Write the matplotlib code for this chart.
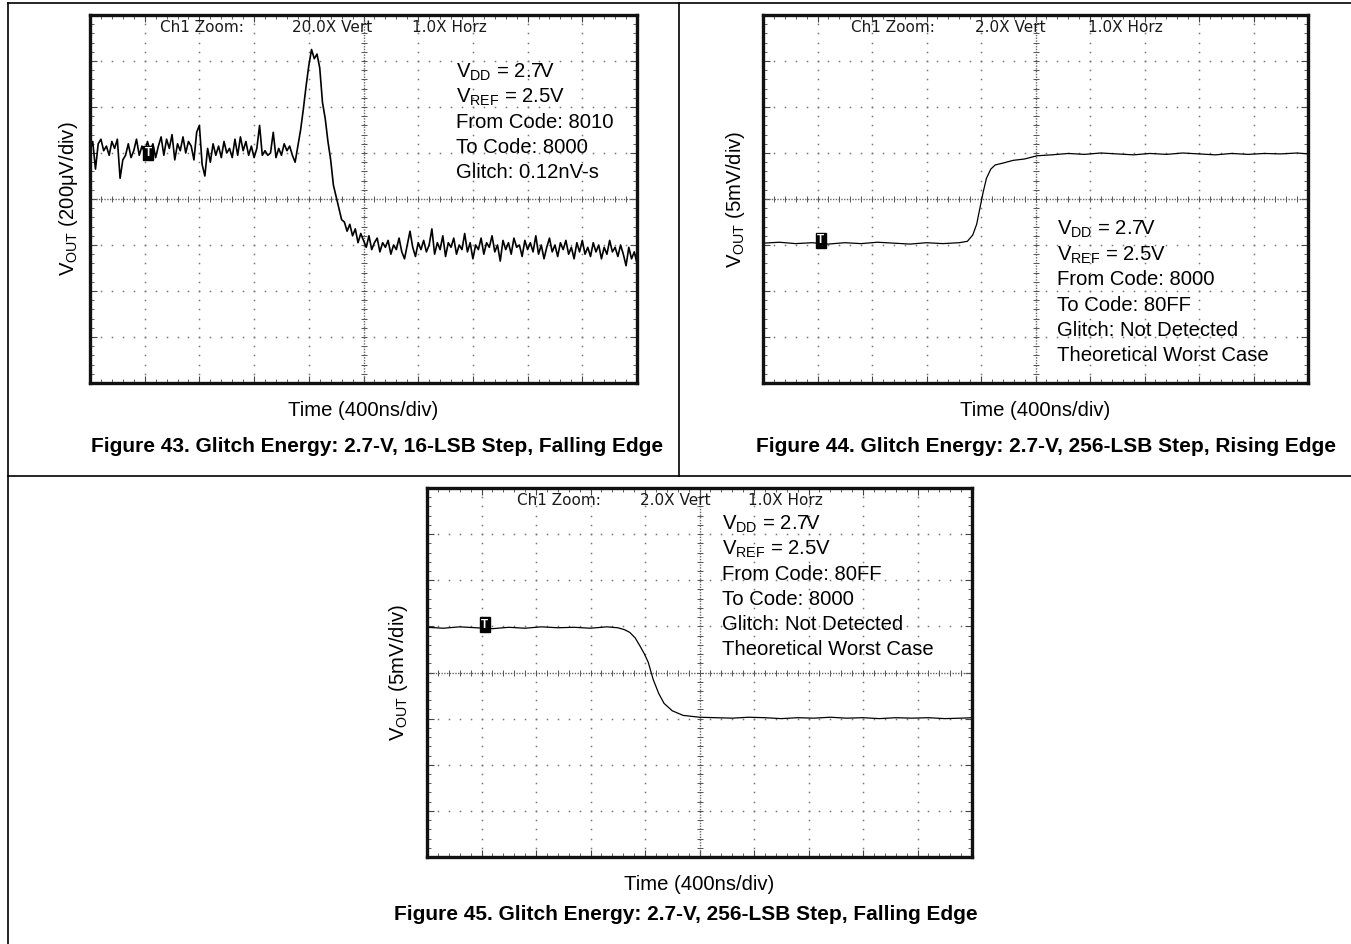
import matplotlib
matplotlib.use('Agg')
import matplotlib.pyplot as plt
import numpy as np
from matplotlib.lines import Line2D

plt.rcParams['font.family'] = ['Liberation Sans', 'DejaVu Sans']
plt.rcParams['mathtext.fontset'] = 'custom'
plt.rcParams['mathtext.rm'] = 'Liberation Sans'
plt.rcParams['mathtext.it'] = 'Liberation Sans:italic'

W, H = 1351, 944

# Figure 43 trace (divisions, sampled every 0.05 div)
fig43_pre = [5.05, 5.25, 4.65, 5.20, 5.30, 5.05, 5.15, 4.95, 5.25, 5.10,
             5.30, 4.45, 4.85, 4.95, 5.20, 4.90, 5.05, 5.30, 4.95, 5.15,
             5.00, 5.25, 5.05, 5.20, 4.90, 5.15, 5.35, 4.95, 5.30, 5.10,
             5.40, 4.85, 5.20, 5.05, 5.35, 5.00, 5.25, 5.15, 4.85, 5.45,
             5.60, 4.75, 4.50, 5.10, 4.80, 5.20, 4.95, 5.15, 4.90, 5.25,
             5.00, 5.10, 4.90, 5.30, 4.95, 5.35, 5.05, 5.25, 4.95, 5.15,
             4.90, 5.10, 5.60, 4.95, 5.05, 4.95, 5.00, 5.45, 4.90, 5.10,
             4.95, 5.20, 5.05, 5.15, 4.95, 4.80, 5.15]
fig43_glitch = [5.50, 5.95, 6.45, 6.90, 7.25, 7.05, 7.15, 6.85, 6.10, 5.75,
                5.25, 4.85, 4.30, 4.05, 3.80, 3.55, 3.50, 3.30, 3.45, 3.20,
                3.35, 3.05, 3.25, 3.10]
fig43_post = [2.95, 3.20, 2.90, 3.05, 3.15, 2.85, 3.05, 2.95, 3.10, 2.80,
              3.00, 2.90, 3.15, 2.85, 2.70, 3.00, 3.30, 2.95, 2.75, 3.05,
              2.90, 3.10, 2.85, 3.00, 3.35, 2.80, 3.05, 2.90, 3.20, 2.75,
              3.05, 2.95, 3.15, 2.80, 3.00, 2.90, 3.25, 2.85, 3.05, 2.70,
              3.00, 2.90, 3.15, 2.80, 3.05, 2.95, 3.20, 2.85, 3.00, 2.65,
              3.10, 2.90, 3.05, 2.80, 3.15, 2.95, 3.00, 2.75, 3.10, 2.90,
              3.05, 2.85, 3.20, 2.80, 3.00, 2.70, 2.95, 3.15, 2.85, 3.00,
              2.75, 3.05, 2.90, 3.10, 2.80, 2.95, 2.70, 3.05, 2.85, 3.10,
              2.80, 2.95, 2.75, 3.05, 2.85, 3.00, 2.70, 2.95, 2.80, 3.10,
              2.85, 2.95, 2.75, 3.00, 2.80, 2.55, 2.95, 2.70, 2.85, 2.60]
fig43_v = fig43_pre + fig43_glitch + fig43_post
fig43_t = np.linspace(0, 10, len(fig43_v))

# Figure 44 trace
fig44_t = [0, 0.3, 0.6, 0.9, 1.2, 1.5, 1.8, 2.1, 2.4, 2.7, 3.0, 3.3, 3.6, 3.75,
           3.85, 3.92, 3.98, 4.04, 4.10, 4.18, 4.26, 4.40, 4.59, 4.80, 5.03,
           5.3, 5.6, 5.9, 6.2, 6.5, 6.8, 7.1, 7.4, 7.7, 8.0, 8.3, 8.6, 8.9,
           9.2, 9.5, 9.8, 10.0]
fig44_v = [3.04, 3.06, 3.03, 3.05, 3.02, 3.05, 3.03, 3.06, 3.04, 3.02, 3.05,
           3.03, 3.05, 3.08, 3.22, 3.45, 3.80, 4.15, 4.45, 4.65, 4.74, 4.78,
           4.84, 4.87, 4.94, 4.96, 4.99, 4.97, 5.00, 4.98, 4.96, 4.99, 4.97,
           5.00, 4.98, 4.96, 4.99, 4.97, 4.99, 4.98, 5.00, 4.98]

# Figure 45 trace
fig45_t = [0, 0.3, 0.6, 0.9, 1.2, 1.5, 1.8, 2.1, 2.4, 2.7, 3.0, 3.3, 3.5,
           3.62, 3.72, 3.82, 3.91, 3.99, 4.06, 4.15, 4.25, 4.35, 4.5, 4.7,
           5.0, 5.3, 5.6, 5.9, 6.2, 6.5, 6.8, 7.1, 7.4, 7.7, 8.0, 8.3, 8.6,
           8.9, 9.2, 9.5, 9.8, 10.0]
fig45_v = [4.98, 4.96, 4.99, 4.97, 4.95, 4.98, 4.96, 4.99, 4.97, 4.98, 4.96,
           4.99, 4.97, 4.93, 4.87, 4.75, 4.57, 4.40, 4.22, 3.85, 3.55, 3.33,
           3.17, 3.07, 3.03, 3.02, 3.01, 3.03, 3.02, 3.00, 3.02, 3.01, 3.03,
           3.01, 3.02, 3.00, 3.02, 3.01, 3.02, 3.00, 3.01, 3.02]

ylabels = ['V$_{\\rm OUT}$ (200\u03bcV/div)', 'V$_{\\rm OUT}$ (5mV/div)',
           'V$_{\\rm OUT}$ (5mV/div)']
zoom_vert = ['20.0X Vert', '2.0X Vert', '2.0X Vert']
notes = [
    ['V$_{\\rm DD}$ = 2.7V', 'V$_{\\rm REF}$ = 2.5V', 'From Code: 8010',
     'To Code: 8000', 'Glitch: 0.12nV-s'],
    ['V$_{\\rm DD}$ = 2.7V', 'V$_{\\rm REF}$ = 2.5V', 'From Code: 8000',
     'To Code: 80FF', 'Glitch: Not Detected', 'Theoretical Worst Case'],
    ['V$_{\\rm DD}$ = 2.7V', 'V$_{\\rm REF}$ = 2.5V', 'From Code: 80FF',
     'To Code: 8000', 'Glitch: Not Detected', 'Theoretical Worst Case'],
]
captions = ['Figure 43. Glitch Energy: 2.7-V, 16-LSB Step, Falling Edge',
            'Figure 44. Glitch Energy: 2.7-V, 256-LSB Step, Rising Edge',
            'Figure 45. Glitch Energy: 2.7-V, 256-LSB Step, Falling Edge']


def px(x, y):
    return x / W, 1 - y / H


def graticule(ax):
    ax.set_xlim(0, 10)
    ax.set_ylim(0, 8)
    ax.set_xticks(range(11))
    ax.set_yticks(range(9))
    ax.set_xticks(np.arange(0, 10.01, 0.2), minor=True)
    ax.set_yticks(np.arange(0, 8.01, 0.2), minor=True)
    ax.tick_params(which='both', direction='in', top=True, right=True,
                   labelbottom=False, labelleft=False, color='#444')
    ax.tick_params(which='major', length=5, width=0.8)
    ax.tick_params(which='minor', length=3, width=0.6)
    for sp in ax.spines.values():
        sp.set_linewidth(2.4)
        sp.set_color('#111')
        sp.set_zorder(5)
    xm = np.arange(0, 10.01, 0.2)
    ym = np.arange(0, 8.01, 0.2)
    for gx in [1, 2, 3, 4, 6, 7, 8, 9]:
        ax.plot([gx] * len(ym), ym, ls='none', marker='s', ms=1.1, mew=0,
                color='#777')
    for gy in [1, 2, 3, 5, 6, 7]:
        ax.plot(xm, [gy] * len(xm), ls='none', marker='s', ms=1.1, mew=0,
                color='#777')
    ax.axvline(5, ls=(0, (1, 1)), lw=1.0, color='#666')
    ax.axhline(4, ls=(0, (1, 1)), lw=1.0, color='#666')
    ax.plot(xm, [4] * len(xm), ls='none', marker='|', ms=5, mew=0.7, color='#555')
    ax.plot([5] * len(ym), ym, ls='none', marker='_', ms=5, mew=0.7, color='#555')


fig = plt.figure(figsize=(W / 100, H / 100), dpi=100)

# axes boxes in pixels: left, top, right, bottom
boxes = [(90, 15, 637, 383), (763, 15, 1308, 383), (427, 488, 972, 857)]
traces = [(fig43_t, fig43_v, 1.2), (fig44_t, fig44_v, 0.9), (fig45_t, fig45_v, 0.9)]
trig_y = [5.0, 3.1, 5.04]
zoom_x = [(1.28, 3.69, 5.89), (1.61, 3.89, 5.96), (1.65, 3.91, 5.89)]
note_xy = [(6.69, 6.76), (5.39, 3.33), (5.41, 7.22)]
ylab_x = [68, 735, 398]
cap_xy = [(377, 447), (1046, 447), (686, 914)]

for i, (l, t, r, b) in enumerate(boxes):
    ax = fig.add_axes([l / W, 1 - b / H, (r - l) / W, (b - t) / H])
    graticule(ax)
    tt, vv, lw = traces[i]
    ax.plot(tt, vv, color='black', lw=lw, zorder=4)
    ax.text(1.06, trig_y[i], 'T', ha='center', va='center', color='white',
            fontsize=8.5, fontweight='bold', zorder=6,
            bbox=dict(boxstyle='square,pad=0.12', fc='black', ec='black'))
    zx = zoom_x[i]
    for x, s in zip(zx, ['Ch1 Zoom:', zoom_vert[i], '1.0X Horz']):
        ax.text(x, 7.72, s, ha='left', va='center', fontsize=11,
                family='DejaVu Sans', color='#1a1a1a')
    nx, ny = note_xy[i]
    for k, s in enumerate(notes[i]):
        ax.text(nx, ny - k * 0.545, s, ha='left', va='center', fontsize=14.6,
                zorder=6)
    cx = (l + r) / 2
    fig.text(*px(ylab_x[i], (t + b) / 2), ylabels[i], rotation=90,
             ha='center', va='center', fontsize=14.6)
    fig.text(*px(cx, b + 27), 'Time (400ns/div)', ha='center', va='center',
             fontsize=14.6)
    fig.text(*px(*cap_xy[i]), captions[i], ha='center', va='center',
             fontsize=15, fontweight='bold')

# table frame
frame = [((8, 3), (8, 944)), ((8, 3), (1351, 3)), ((679, 3), (679, 476)),
         ((8, 476), (1351, 476))]
for (x0, y0), (x1, y1) in frame:
    a, b0 = px(x0, y0)
    c, d = px(x1, y1)
    fig.add_artist(Line2D([a, c], [b0, d], color='black', lw=1.2))

fig.savefig('out.png', dpi=100)
